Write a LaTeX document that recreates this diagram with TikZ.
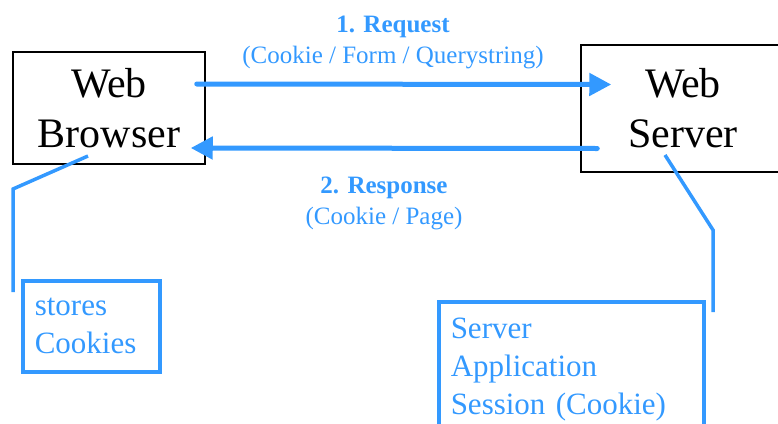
\documentclass[tikz,border=0pt]{standalone}
\usepackage{fontspec}
\setmainfont{Liberation Serif}
\usetikzlibrary{positioning, arrows.meta}
\definecolor{webblue}{RGB}{51, 153, 255}

\begin{document}
\begin{tikzpicture}[x = 1pt, y = 1pt,
  host/.style={draw, rectangle, line width = 1.5pt, align = center, inner sep = 0pt,
    font = \fontsize{42}{50}\selectfont},
  note/.style={draw = webblue, rectangle, line width = 3.5pt, align = left, text = webblue,
    anchor = north west, font = \fontsize{31}{38}\selectfont},
  flow/.style={draw = webblue, line width = 5pt, line cap = round,
    -{Triangle[length = 22pt, width = 22pt]}},
  tether/.style={draw = webblue, line width = 3.5pt},
  msg/.style={text = webblue, align = center, font = \fontsize{25}{31}\selectfont}]
  \useasboundingbox (0,0) rectangle (778,-423);

  % nodes
  \node [host, minimum width = 192pt, minimum height = 112pt] (browser) at (109,-108) {Web\\Browser};
  \node [host, minimum width = 204pt, minimum height = 127pt] (server) at (683,-108.5) {Web\\Server};

  \node [msg] (request) at (393,-42) {\textbf{1. Request}\\(Cookie / Form / Querystring)};
  \node [msg] (response) at (384,-203) {\textbf{2. Response}\\(Cookie / Page)};

  \node [note, text width = 113pt, inner xsep = 12pt, minimum height = 91pt] (cookies) at (21,-279) {stores\\Cookies};
  \node [note, text width = 241pt, inner xsep = 12pt, minimum height = 135pt] (session) at (437,-300) {Server\\Application\\Session (Cookie)};

  % edges
  \draw [flow] ([shift = {(-9,24)}]browser.east) -- ([shift = {(31,24)}]server.west);
  \draw [flow] ([shift = {(17,-40)}]server.west) -- ([shift = {(-15,-40)}]browser.east);

  % callout lines
  \coordinate (cookies-bend) at (13,-189);
  \coordinate (cookies-end) at (13,-292);
  \coordinate (session-bend) at (713,-230);
  \coordinate (session-end) at (713,-312);
  \draw [tether] ([shift = {(-21,-48)}]browser.center) -- (cookies-bend) -- (cookies-end);
  \draw [tether] ([shift = {(-18,-46.5)}]server.center) -- (session-bend) -- (session-end);
\end{tikzpicture}
\end{document}
